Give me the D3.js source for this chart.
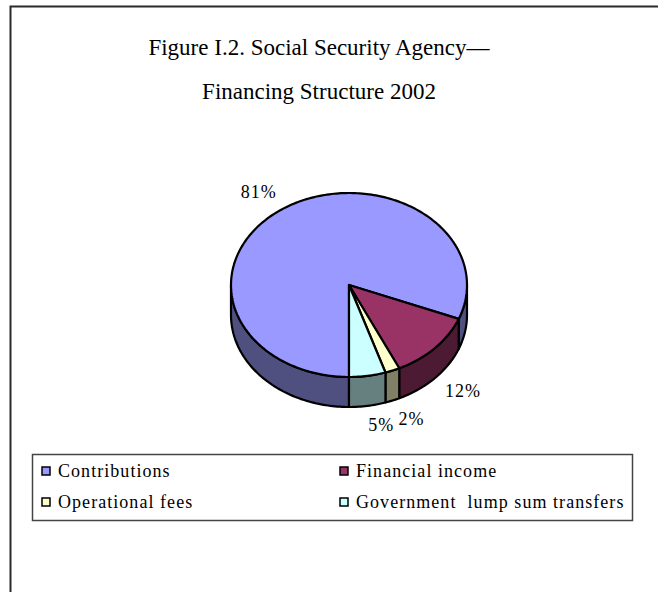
<!DOCTYPE html>
<html>
<head>
<meta charset="utf-8">
<script src="https://cdn.jsdelivr.net/npm/d3@7"></script>
<style>
  html, body { margin: 0; padding: 0; background: #fff; }
  svg { display: block; }
  text { font-family: "Liberation Serif", "Times New Roman", serif; fill: #000; }
</style>
</head>
<body>
<script>
// ---- data ----
const categories = ["Contributions", "Financial income", "Operational fees", "Government  lump sum transfers"];
const values = [81, 12, 2, 5];
const topColors = ["#9999FF", "#993366", "#FFFFCC", "#CCFFFF"];
const sideColors = ["#4F4F80", "#4D1A33", "#808066", "#668080"];
const titleLines = ["Figure I.2. Social Security Agency\u2014", "Financing Structure 2002"];

const W = 658, H = 592;
const svg = d3.select("body").append("svg").attr("width", W).attr("height", H);

// chart frame (extends past right/bottom of the window)
svg.append("rect").attr("x", 10.5).attr("y", 6.5).attr("width", 700).attr("height", 700)
  .attr("fill", "none").attr("stroke", "#2a2a2a").attr("stroke-width", 2);

// title
svg.append("g").selectAll("text").data(titleLines).join("text")
  .attr("x", 319).attr("y", (d, i) => 47 + i * 44)
  .attr("dy", "0.35em").attr("text-anchor", "middle")
  .style("font-size", "23px").text(d => d);

// ---- 3D pie ----
const cx = 349, cy = 285, rx = 118, ry = 92, depth = 30;
const pie = d3.pie().sort(null).startAngle(Math.PI).endAngle(3 * Math.PI);
const arcs = pie(values);
const total = d3.sum(values);

const sx = d3.scaleLinear().domain([-1, 1]).range([cx - rx, cx + rx]);
const sy = d3.scaleLinear().domain([-1, 1]).range([cy - ry, cy + ry]);
const pt = (a, dz = 0) => [sx(Math.sin(a)), sy(-Math.cos(a)) + dz];

function arcPts(a0, a1, dz) {
  const n = Math.max(2, Math.ceil(Math.abs(a1 - a0) / 0.02));
  return d3.range(n + 1).map(i => pt(a0 + (a1 - a0) * i / n, dz));
}

// visible wall pieces: where the rim faces the viewer (lower half)
function wallSegments(a0, a1) {
  const segs = [];
  for (let k = -1; k <= 2; k++) {
    const lo = Math.PI / 2 + k * 2 * Math.PI, hi = 3 * Math.PI / 2 + k * 2 * Math.PI;
    const s = Math.max(a0, lo), e = Math.min(a1, hi);
    if (e > s + 1e-6) segs.push([s, e]);
  }
  return segs;
}

const line = d3.line();
const gWalls = svg.append("g");
arcs.forEach((d, i) => {
  wallSegments(d.startAngle, d.endAngle).forEach(([s, e]) => {
    const top = arcPts(s, e, 0);
    const bot = arcPts(e, s, depth);
    gWalls.append("path")
      .attr("d", line(top.concat(bot)) + "Z")
      .attr("fill", sideColors[i]).attr("stroke", "#000")
      .attr("stroke-width", 2.2).attr("stroke-linejoin", "round");
  });
});

const gTops = svg.append("g");
arcs.forEach((d, i) => {
  const pts = [[cx, cy]].concat(arcPts(d.startAngle, d.endAngle, 0));
  gTops.append("path")
    .attr("d", line(pts) + "Z")
    .attr("fill", topColors[i]).attr("stroke", "#000")
    .attr("stroke-width", 2.2).attr("stroke-linejoin", "round");
});

// data labels (placed outside the rim along each slice's mid-angle)
const lfx = 1.21, lfy = 1.22, gap = 10;
svg.append("g").selectAll("text").data(arcs).join("text")
  .attr("x", d => {
    const m = (d.startAngle + d.endAngle) / 2;
    const s = Math.sin(m);
    return sx(lfx * s) + Math.sign(s) * gap;
  })
  .attr("y", d => {
    const m = (d.startAngle + d.endAngle) / 2;
    const c = -Math.cos(m);
    return sy(lfy * c) + (c > 0 ? depth - 1 : 0);
  })
  .attr("dy", "0.35em").attr("text-anchor", "middle")
  .style("font-size", "18px").style("letter-spacing", "1px")
  .text(d => Math.round(d.data / total * 100) + "%");

// legend
const lg = svg.append("g");
lg.append("rect").attr("x", 32.5).attr("y", 454.5).attr("width", 600).attr("height", 66)
  .attr("fill", "#fff").attr("stroke", "#444").attr("stroke-width", 1.5);
const colX = [42, 340], rowY = [471, 502];
categories.forEach((c, i) => {
  const x = colX[i % 2], y = rowY[Math.floor(i / 2)];
  lg.append("rect").attr("x", x).attr("y", y - 4).attr("width", 8).attr("height", 8)
    .attr("fill", topColors[i]).attr("stroke", "#000").attr("stroke-width", 1.5);
  lg.append("text").attr("x", x + 16).attr("y", y).attr("dy", "0.35em")
    .style("font-size", "18px").style("letter-spacing", "1.05px")
    .style("white-space", "pre").attr("xml:space", "preserve").text(c);
});
</script>
</body>
</html>
